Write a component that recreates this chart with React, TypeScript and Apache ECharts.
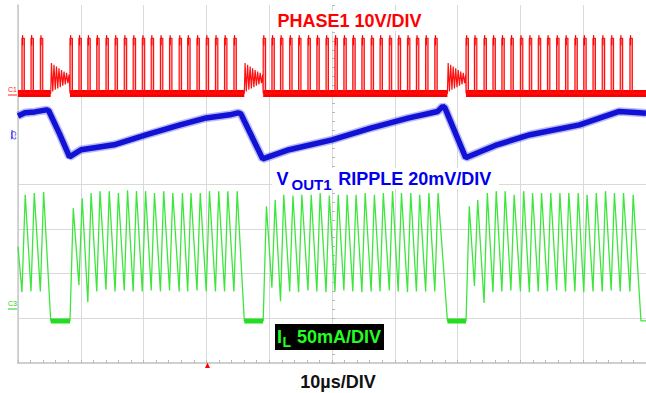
import React, { useEffect, useRef } from "react";
import * as echarts from "echarts";

// ---- time base: 10 µs / div, 10 divisions ----
const timeTicks = [0, 10, 20, 30, 40, 50, 60, 70, 80, 90, 100];

// ---- PHASE1 (V): switching pulse start times (µs) ----
const phasePulsesA = [0.63, 2.07, 3.56];
const phasePulsesB = [8.28, 9.7, 11.12, 12.54, 14.01, 15.46, 16.92, 18.34, 19.79, 21.21, 22.68, 24.13, 25.66, 27.02, 28.5, 29.97, 31.44, 32.89, 34.38];
const phasePulsesC = [39.04, 40.43, 41.8, 43.26, 44.68, 46.17, 47.59, 49.05, 50.47, 51.89, 53.31, 54.76, 56.23, 57.65, 59.12, 60.54, 62.02, 63.44, 64.91, 66.37];
const phasePulsesD = [71.34, 72.68, 74.21, 75.63, 77.05, 78.49, 80.0, 81.42, 82.85, 84.31, 85.77, 87.19, 88.68, 90.09, 91.56, 93.03, 94.45, 95.9, 97.44];
const phaseOnTime = 0.38; // µs
const phaseHigh = 12.3; // V
const phaseLow = 0; // V
// DCM ringing (start times, then shape relative to start)
const ringStarts = [5.21, 36.04, 68.38];
const ringDt = [0, 0.12, 0.32, 0.52, 0.72, 0.92, 1.12, 1.32, 1.52, 1.72, 1.92, 2.12, 2.32, 2.52, 2.72, 2.92];
const ringVolts = [0, 6.8, 0.4, 6.4, 0.8, 6.0, 1.1, 5.6, 1.4, 5.2, 1.7, 4.9, 2.0, 4.6, 2.3, 4.2];

// ---- VOUT1 ripple (mV) ----
const rippleTime = [0, 1.1, 2.68, 4.53, 4.89, 6.62, 8.2, 10.05, 15.3, 20.5, 25.82, 29.97, 33.71, 35.02, 35.49, 38.96, 43.17, 50.0, 56.31, 62.1, 66.83, 67.62, 67.98, 71.29, 76.29, 81.55, 89.43, 95.74, 99.05, 100];
const rippleMv = [8.0, 9.4, 9.8, 10.7, 10.3, 0, -10.3, -7.1, -4.9, -0.4, 4.0, 7.1, 8.5, 9.4, 8.9, -11.2, -7.1, -2.7, 2.7, 7.0, 10.0, 12.3, 11.6, -10.7, -4.9, -0.4, 4.0, 10.0, 9.4, 9.2];

// ---- IL (mA): peak and valley per switching cycle ----
const ilRiseTime = 0.52; // µs from valley to peak
const ilStart = 80;
const ilFlat = -3;
const ilEnd = [[99.2, -3], [100, -3]];
const ilPeakA = [138, 140, 141];
const ilValleyA = [29, 30, 30];
const ilPeakB = [123, 134, 140, 142, 142, 140, 143, 142, 142, 140, 142, 140, 140, 140, 140, 142, 142, 142, 142];
const ilValleyB = [-3, 37, 18, 30, 32, 30, 31, 30, 30, 31, 30, 31, 30, 30, 31, 30, 30, 30, 30];
const ilPeakC = [125, 132, 138, 137, 138, 138, 140, 137, 138, 138, 138, 140, 138, 140, 142, 140, 140, 138, 140, 140];
const ilValleyC = [-3, 34, 19, 30, 29, 31, 30, 29, 30, 31, 30, 29, 30, 30, 31, 30, 29, 30, 30, 30];
const ilPeakD = [125, 132, 140, 142, 142, 138, 142, 140, 140, 140, 140, 140, 140, 138, 140, 142, 140, 140, 138];
const ilValleyD = [-3, 36, 17, 29, 30, 31, 30, 29, 30, 30, 31, 30, 30, 29, 30, 30, 31, 30, 30];

const FONT = '"Liberation Sans", Arial, Helvetica, sans-serif';

function buildOption() {
  const segs = [phasePulsesA, phasePulsesB, phasePulsesC, phasePulsesD];
  const peaks = [ilPeakA, ilPeakB, ilPeakC, ilPeakD];
  const valleys = [ilValleyA, ilValleyB, ilValleyC, ilValleyD];

  const redLine: number[][] = [[0, phaseLow]];
  const redRects: number[][] = [];
  const redBands: number[][][] = [];
  const greenLine: number[][] = [[0, ilStart]];
  const greenFlats: number[][][] = [];

  segs.forEach((seg, s) => {
    seg.forEach((t, i) => {
      redLine.push([t, phaseLow], [t, phaseHigh], [t + phaseOnTime, phaseHigh], [t + phaseOnTime, phaseLow]);
      redRects.push([t, t + phaseOnTime, phaseHigh]);
      greenLine.push([t, valleys[s][i]], [t + ilRiseTime, peaks[s][i]]);
    });
    const bandStart = s === 0 ? 0 : seg[0];
    const bandEnd = s < ringStarts.length ? ringStarts[s] : 100;
    redBands.push([[bandStart, phaseLow], [bandEnd, phaseLow]]);
    if (s < ringStarts.length) {
      const rs = ringStarts[s];
      ringDt.forEach((dt, k) => redLine.push([rs + dt, ringVolts[k]]));
      greenLine.push([rs, ilFlat]);
      greenFlats.push([[rs, ilFlat], [segs[s + 1][0], ilFlat]]);
    }
  });
  redLine.push([100, phaseLow]);
  ilEnd.forEach((p) => greenLine.push(p));

  const blue = rippleTime.map((t, i) => [t, rippleMv[i]]);

  const hiddenY = (min: number, max: number) => ({
    type: "value", gridIndex: 0, min, max, show: false,
  });

  const series: any[] = [
    {
      type: "line", name: "ripple-noise", xAxisIndex: 0, yAxisIndex: 3, data: blue,
      showSymbol: false, lineStyle: { color: "rgba(80,80,245,0.4)", width: 8.5 }, silent: true,
    },
    {
      type: "line", name: "VOUT1", xAxisIndex: 0, yAxisIndex: 3, data: blue,
      showSymbol: false, lineStyle: { color: "#1212d4", width: 5.5 }, silent: true,
    },
    {
      type: "line", name: "IL", xAxisIndex: 0, yAxisIndex: 4, data: greenLine,
      showSymbol: false, lineStyle: { color: "#3de63d", width: 1.3 }, silent: true,
    },
    ...greenFlats.map((d) => ({
      type: "line", xAxisIndex: 0, yAxisIndex: 4, data: d, showSymbol: false,
      lineStyle: { color: "#22dd22", width: 5 }, silent: true,
    })),
    {
      type: "custom", name: "phase-fill", xAxisIndex: 0, yAxisIndex: 2, data: redRects,
      clip: true, silent: true,
      renderItem: (params: any, api: any) => {
        const p0 = api.coord([api.value(0), phaseLow]);
        const p1 = api.coord([api.value(1), api.value(2)]);
        const b0 = api.coord([api.value(0), api.value(2) + 0.7]);
        const b1 = api.coord([api.value(0) + 0.2, api.value(2) - 1.6]);
        return {
          type: "group",
          children: [
            { type: "rect", shape: { x: p0[0], y: p1[1], width: p1[0] - p0[0], height: p0[1] - p1[1] }, style: { fill: "#ffb4b4" } },
            { type: "rect", shape: { x: b0[0], y: b0[1], width: b1[0] - b0[0], height: b1[1] - b0[1] }, style: { fill: "#ee0000" } },
          ],
        };
      },
    },
    ...redBands.map((d) => ({
      type: "line", xAxisIndex: 0, yAxisIndex: 2, data: d, showSymbol: false,
      lineStyle: { color: "#ff0000", width: 7 }, silent: true,
    })),
    {
      type: "line", name: "PHASE1", xAxisIndex: 0, yAxisIndex: 2, data: redLine,
      showSymbol: false, lineStyle: { color: "#ff1010", width: 1.2 }, silent: true,
    },
  ];

  const Z = 100;

  return {
    animation: false,
    backgroundColor: "#ffffff",
    grid: [
      { left: 18, top: 5, width: 634, height: 358 },
      { left: 18, top: 184, width: 634, height: 179 },
    ],
    xAxis: [
      {
        type: "value", gridIndex: 0, min: timeTicks[0], max: timeTicks[timeTicks.length - 1], interval: 10,
        position: "bottom", axisLine: { show: false }, axisTick: { show: false }, axisLabel: { show: false },
        splitLine: { show: true, lineStyle: { color: "#d9d9d9", width: 1 } },
      },
      {
        type: "value", gridIndex: 0, min: 0, max: 100, position: "top",
        axisLine: { show: true, lineStyle: { color: "#cfcfcf", width: 2 } },
        axisTick: { show: false }, axisLabel: { show: false }, splitLine: { show: false },
      },
      {
        type: "value", gridIndex: 1, min: 0, max: 100, interval: 2, position: "top",
        axisLine: { show: true, lineStyle: { color: "#d0d0d0", width: 1 } },
        axisTick: { show: true, length: 3, lineStyle: { color: "#b8b8b8" } },
        axisLabel: { show: false }, splitLine: { show: false },
      },
      {
        type: "value", gridIndex: 1, min: 0, max: 100, position: "bottom",
        axisLine: { show: true, lineStyle: { color: "#cfcfcf", width: 1.5 } },
        axisTick: { show: false }, axisLabel: { show: false }, splitLine: { show: false },
      },
    ],
    yAxis: [
      {
        type: "value", gridIndex: 0, min: 0, max: 8, position: "left",
        axisLine: { show: true, lineStyle: { color: "#c8c8c8", width: 1.5 } },
        axisTick: { show: false }, axisLabel: { show: false }, splitLine: { show: false },
      },
      {
        type: "value", gridIndex: 0, min: 0, max: 8, interval: 0.2, position: "left", offset: -317,
        axisLine: { show: false }, axisTick: { show: true, length: 3, lineStyle: { color: "#b8b8b8" } },
        axisLabel: { show: false }, splitLine: { show: false },
      },
      hiddenY(-60.25, 19.75), // PHASE1, 10 V/div
      hiddenY(-102.42, 57.58), // VOUT1 ripple, 20 mV/div
      hiddenY(-50, 350), // IL, 50 mA/div
      {
        type: "value", gridIndex: 1, min: 0, max: 4, interval: 1, position: "left",
        axisLine: { show: false }, axisTick: { show: false }, axisLabel: { show: false },
        splitLine: { show: true, lineStyle: { color: "#d9d9d9", width: 1 } },
      },
    ],
    series,
    graphic: [
      // channel markers
      { type: "text", z: Z, x: 8, y: 86, style: { text: "C1", font: `7px ${FONT}`, fill: "#ff2020" } },
      { type: "line", z: Z, shape: { x1: 8, y1: 95, x2: 17, y2: 95 }, style: { stroke: "#ff2020", lineWidth: 1 } },
      { type: "text", z: Z, x: 17, y: 131, rotation: -Math.PI / 2, style: { text: "C2", font: `7px ${FONT}`, fill: "#2020ff" } },
      { type: "line", z: Z, shape: { x1: 12, y1: 130, x2: 12, y2: 139 }, style: { stroke: "#2020ff", lineWidth: 1 } },
      { type: "text", z: Z, x: 8, y: 300, style: { text: "C3", font: `7px ${FONT}`, fill: "#22cc22" } },
      { type: "line", z: Z, shape: { x1: 8, y1: 309, x2: 17, y2: 309 }, style: { stroke: "#22cc22", lineWidth: 1 } },
      // trigger marker
      { type: "polygon", z: Z, shape: { points: [[205, 368], [207.5, 362.5], [210, 368]] }, style: { fill: "#ff0000" } },
      // PHASE1 label
      {
        type: "text", z: Z, x: 349.5, y: 21,
        style: { text: "PHASE1 10V/DIV", font: `bold 18px ${FONT}`, fill: "#ff0000", align: "center", verticalAlign: "middle", backgroundColor: "#ffffff", padding: [1, 3] },
      },
      // VOUT1 label
      { type: "rect", z: Z, shape: { x: 272, y: 168, width: 227, height: 21 }, style: { fill: "#ffffff" } },
      { type: "text", z: Z + 1, x: 276.5, y: 179, style: { text: "V", font: `bold 18px ${FONT}`, fill: "#0000ee", align: "left", verticalAlign: "middle" } },
      { type: "text", z: Z + 1, x: 291.5, y: 184.5, style: { text: "OUT1", font: `bold 15px ${FONT}`, fill: "#0000ee", align: "left", verticalAlign: "middle" } },
      { type: "text", z: Z + 1, x: 338.3, y: 179, style: { text: "RIPPLE 20mV/DIV", font: `bold 18px ${FONT}`, fill: "#0000ee", align: "left", verticalAlign: "middle" } },
      // IL label
      { type: "rect", z: Z, shape: { x: 275, y: 324, width: 109, height: 26 }, style: { fill: "#000000" } },
      { type: "text", z: Z + 1, x: 277, y: 337, style: { text: "I", font: `bold 18px ${FONT}`, fill: "#22ff22", align: "left", verticalAlign: "middle" } },
      { type: "text", z: Z + 1, x: 282.5, y: 342, style: { text: "L", font: `bold 14px ${FONT}`, fill: "#22ff22", align: "left", verticalAlign: "middle" } },
      { type: "text", z: Z + 1, x: 297, y: 337, style: { text: "50mA/DIV", font: `bold 18px ${FONT}`, fill: "#22ff22", align: "left", verticalAlign: "middle" } },
      // time base
      { type: "text", z: Z, x: 338, y: 382, style: { text: "10µs/DIV", font: `bold 18px ${FONT}`, fill: "#111111", align: "center", verticalAlign: "middle" } },
    ],
  };
}

export default function App() {
  const ref = useRef<HTMLDivElement>(null);
  useEffect(() => {
    if (!ref.current) return;
    const chart = echarts.init(ref.current, undefined, { renderer: "svg" });
    chart.setOption(buildOption() as any);
    return () => chart.dispose();
  }, []);
  return (
    <div
      ref={ref}
      style={{ position: "absolute", left: 0, top: 0, width: 646, height: 393, background: "#fff" }}
    />
  );
}
